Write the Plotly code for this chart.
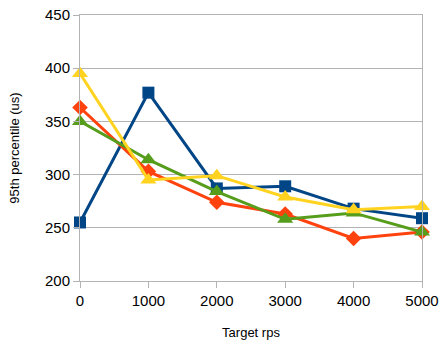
import plotly.graph_objects as go

x_rps = [0, 1000, 2000, 3000, 4000, 5000]
series_blue = [255, 377, 287, 289, 268, 259]
series_orange = [363, 303, 274, 263, 240, 246]
series_green = [350, 314, 284, 258, 264, 246]
series_yellow = [395, 295, 299, 279, 267, 270]

series = [
    ("Series 1", series_blue, "#004586", "square", 12),
    ("Series 2", series_orange, "#ff420e", "diamond", 12),
    ("Series 3", series_green, "#579d1c", "triangle-up", 14),
    ("Series 4", series_yellow, "#ffd320", "triangle-up", 14),
]

fig = go.Figure()
for name, ys, col, sym, sz in series:
    fig.add_trace(go.Scatter(
        x=x_rps, y=ys, name=name, mode="lines+markers",
        line=dict(color=col, width=3),
        marker=dict(color=col, symbol=sym, size=sz),
        cliponaxis=False,
    ))

axis_font = dict(family="Liberation Sans, Arial, sans-serif", size=15, color="#000000")
fig.update_layout(
    width=439, height=345,
    margin=dict(l=80, r=17, t=15, b=64, autoexpand=False),
    paper_bgcolor="white", plot_bgcolor="white",
    showlegend=False,
    font=axis_font,
)
fig.update_xaxes(
    range=[0, 5000], tickvals=x_rps, ticktext=[str(v) for v in x_rps],
    showgrid=False, showline=True, linecolor="#b3b3b3", linewidth=1, mirror=True,
    ticks="outside", ticklen=6, tickcolor="#b3b3b3",
    title=dict(text="Target rps", font=dict(size=13), standoff=19),
    zeroline=False, automargin=False,
)
fig.update_yaxes(
    range=[200, 450], tickvals=[200, 250, 300, 350, 400, 450],
    showgrid=True, gridcolor="#b3b3b3", gridwidth=1,
    showline=True, linecolor="#b3b3b3", linewidth=1, mirror=True,
    ticks="outside", ticklen=6, tickcolor="#b3b3b3",
    title=dict(text="95th percentile (us)", font=dict(size=13), standoff=22),
    zeroline=False, automargin=False,
)
fig.write_html("out.html")
